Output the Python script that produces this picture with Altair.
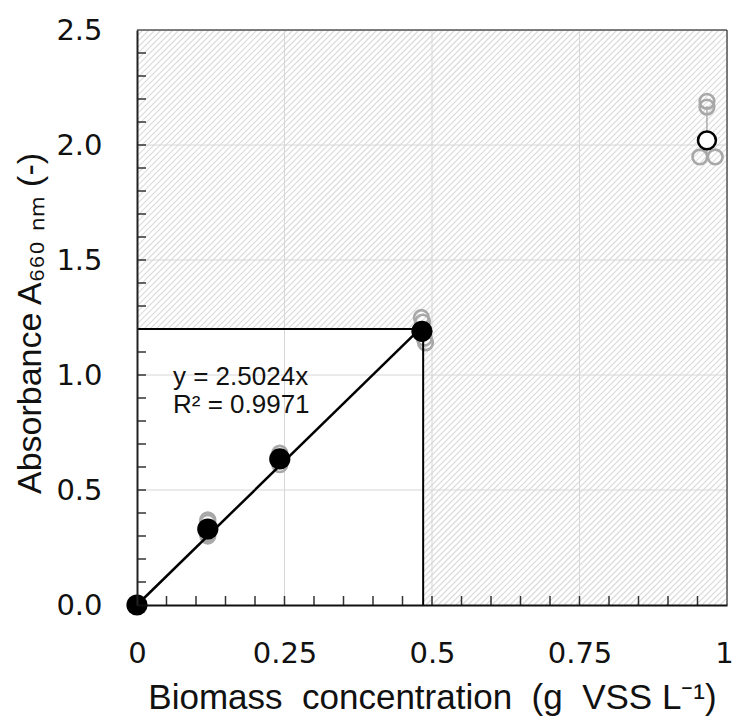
import altair as alt
import pandas as pd
import numpy as np

# ---------------- data ----------------
mean_x = [0.0, 0.12, 0.242, 0.483]
mean_y = [0.0, 0.33, 0.635, 1.19]

rep_x = [0.12, 0.12, 0.12, 0.12, 0.242, 0.242, 0.242,
         0.482, 0.484, 0.487, 0.489, 0.954, 0.966, 0.966, 0.98]
rep_y = [0.37, 0.36, 0.31, 0.30, 0.66, 0.64, 0.61,
         1.25, 1.23, 1.16, 1.14, 1.948, 2.19, 2.165, 1.948]

out_x = [0.966]
out_y = [2.02]
out_lo = [1.95]
out_hi = [2.17]

fit_x = [0.0, 0.483]
fit_y = [0.0, 1.209]

box_x = [0.485]
box_y = [1.2]

ann_text = ["y = 2.5024x", "R\u00b2 = 0.9971"]
ann_x = [0.061, 0.061]
ann_y = [0.957, 0.835]

x_labels = [0, 0.25, 0.5, 0.75, 1]
y_labels = [0, 0.5, 1.0, 1.5, 2.0, 2.5]
x_grid = [0.25, 0.5, 0.75]
y_grid = [0.5, 1.0, 1.5, 2.0]
x_minor = [round(0.05 * i, 2) for i in range(1, 20)]
y_minor = [round(0.1 * i, 1) for i in range(1, 25)]

W, H = 590, 575
LBL_FONT = "DejaVu Sans"
TTL_FONT = "Liberation Sans"

xs = alt.Scale(domain=[0, 1], nice=False, zero=False)
ys = alt.Scale(domain=[0, 2.5], nice=False, zero=False)

xaxis = alt.Axis(values=x_labels, format=".2~f", grid=False, ticks=False, tickSize=0,
                 labelFlush=False, labelOverlap=False, labelPadding=34,
                 labelOffset={"expr": "datum.value == 1 ? -3 : 0"},
                 labelFont=LBL_FONT, labelFontSize=29, labelColor="#111111",
                 domainColor="#111111", domainWidth=2, zindex=1,
                 title="Biomass\u00a0 concentration\u00a0 (g\u00a0 VSS L\u207b\u00b9)",
                 titleFont=TTL_FONT, titleFontSize=35, titleFontWeight="normal",
                 titleColor="#111111", titleX=295, titleY=103,
                 titleAlign="center", titleBaseline="alphabetic")
yaxis = alt.Axis(values=y_labels, format=".1f", grid=False, ticks=False, tickSize=0,
                 labelFlush=False, labelOverlap=False, labelPadding=35,
                 labelFont=LBL_FONT, labelFontSize=29, labelColor="#111111",
                 domainColor="#222222", domainWidth=2, zindex=1,
                 title="Absorbance A\u2086\u2086\u2080 \u2099\u2098 (-)",
                 titleFont=TTL_FONT, titleFontSize=34, titleFontWeight="normal",
                 titleColor="#111111", titleX=-97, titleY=293, titleAngle=270,
                 titleAlign="center", titleBaseline="alphabetic")

X = lambda f="x": alt.X(f"{f}:Q", scale=xs, axis=xaxis)
Y = lambda f="y": alt.Y(f"{f}:Q", scale=ys, axis=yaxis)

# ---------------- hatch pattern (decoration) ----------------
step = 6.0
n = int((W + H) / step) + 2
k = np.arange(n)
xb = (-H + step * k) / W
hatch_df = pd.DataFrame({"x": xb, "x2": xb + H / W, "y": 0.0, "y2": 2.5})
hatch = alt.Chart(hatch_df).mark_rule(clip=True, color="#dadada", strokeWidth=1.2).encode(
    x=X(), x2="x2:Q", y=Y(), y2="y2:Q")

# white (un-hatched) box
box_df = pd.DataFrame({"x": [0.0], "x2": box_x, "y": [0.0], "y2": box_y})
white = alt.Chart(box_df).mark_rect(fill="white").encode(
    x=X(), x2="x2:Q", y=Y(), y2="y2:Q")

# grid lines
gx = alt.Chart(pd.DataFrame({"x": x_grid})).mark_rule(color="#d6d6d6", strokeWidth=1).encode(
    x=X(), y=alt.value(0), y2=alt.value(H))
gy = alt.Chart(pd.DataFrame({"y": y_grid})).mark_rule(color="#d6d6d6", strokeWidth=1).encode(
    y=Y(), x=alt.value(0), x2=alt.value(W))

# inward minor ticks
tx = alt.Chart(pd.DataFrame({"x": x_minor})).mark_rule(color="#333333", strokeWidth=1.5).encode(
    x=X(), y=alt.value(H), y2=alt.value(H - 9))
ty = alt.Chart(pd.DataFrame({"y": y_minor})).mark_rule(color="#333333", strokeWidth=1.5).encode(
    y=Y(), x=alt.value(0), x2=alt.value(9))

# frame top / right
top = alt.Chart(pd.DataFrame({"y": [2.5]})).mark_rule(color="#555555", strokeWidth=1.5).encode(
    y=Y(), x=alt.value(0), x2=alt.value(W))
right = alt.Chart(pd.DataFrame({"x": [1.0]})).mark_rule(color="#555555", strokeWidth=1.5).encode(
    x=X(), y=alt.value(0), y2=alt.value(H))

# error bar for outlier
err_df = pd.DataFrame({"x": out_x, "y": out_lo, "y2": out_hi})
err = alt.Chart(err_df).mark_rule(color="#9a9a9a", strokeWidth=1.2).encode(
    x=X(), y=Y(), y2="y2:Q")

# replicate open circles
rep = alt.Chart(pd.DataFrame({"x": rep_x, "y": rep_y})).mark_point(
    shape="circle", filled=False, size=215, strokeWidth=2.6, color="#a8a8a8", opacity=1).encode(
    x=X(), y=Y())

# fit line
fit = alt.Chart(pd.DataFrame({"x": fit_x, "y": fit_y})).mark_line(
    color="black", strokeWidth=2.5).encode(x=X(), y=Y())

# means
means = alt.Chart(pd.DataFrame({"x": mean_x, "y": mean_y})).mark_point(
    shape="circle", filled=True, size=450, color="black", opacity=1).encode(x=X(), y=Y())

outl = alt.Chart(pd.DataFrame({"x": out_x, "y": out_y})).mark_point(
    shape="circle", filled=True, size=320, fill="white", stroke="black", strokeWidth=2.5,
    opacity=1).encode(x=X(), y=Y())

# box outline
bh = alt.Chart(pd.DataFrame({"x": [0.0], "x2": box_x, "y": box_y})).mark_rule(
    color="black", strokeWidth=2).encode(x=X(), x2="x2:Q", y=Y())
bv = alt.Chart(pd.DataFrame({"x": box_x, "y": [0.0], "y2": box_y})).mark_rule(
    color="black", strokeWidth=2).encode(x=X(), y=Y(), y2="y2:Q")

# annotation
ann = alt.Chart(pd.DataFrame({"x": ann_x, "y": ann_y, "t": ann_text})).mark_text(
    align="left", baseline="alphabetic", font=TTL_FONT, fontSize=26, color="#111111").encode(
    x=X(), y=Y(), text="t:N")

chart = alt.layer(hatch, white, gx, gy, tx, ty, top, right, err, rep, fit, bh, bv,
                  means, outl, ann).properties(
    width=W, height=H,
    autosize=alt.AutoSizeParams(type="none"),
    padding={"left": 137, "top": 30, "right": 7, "bottom": 113},
).configure_view(stroke=None).configure(background="white")

chart.save("out.html", embed_options={"renderer": "svg", "actions": False})
